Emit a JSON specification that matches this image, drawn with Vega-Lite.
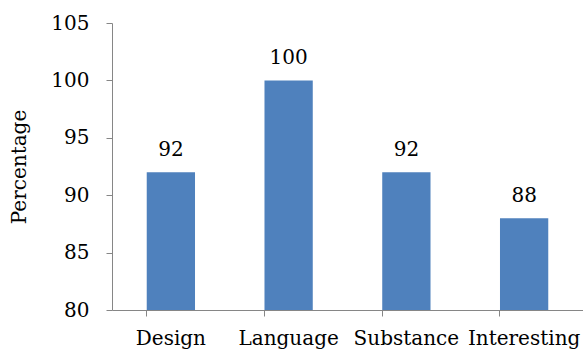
{
  "$schema": "https://vega.github.io/schema/vega-lite/v6.json",
  "autosize": "none",
  "padding": {"left": 112, "top": 23, "right": 0, "bottom": 45},
  "width": 471,
  "height": 287,
  "data": {"values": [
    {"category": "Design", "value": 92},
    {"category": "Language", "value": 100},
    {"category": "Substance", "value": 92},
    {"category": "Interesting", "value": 88}
  ]},
  "config": {"view": {"stroke": null}, "font": "DejaVu Serif"},
  "encoding": {
    "x": {"field": "category", "type": "nominal", "sort": null,
      "scale": {"paddingInner": 0.59, "paddingOuter": 0.295},
      "axis": {"title": null, "labelAngle": 0, "labelFont": "DejaVu Serif", "labelFontSize": 20, "labelColor": "#000", "labelPadding": 12,
        "domainColor": "#868686", "tickColor": "#868686", "tickSize": 6, "bandPosition": 0, "grid": false}},
    "y": {"field": "value", "type": "quantitative",
      "scale": {"domain": [80, 105], "zero": false, "nice": false},
      "axis": {"title": "Percentage", "values": [80, 85, 90, 95, 100, 105], "grid": false,
        "labelFont": "DejaVu Serif", "labelFontSize": 20, "labelColor": "#000", "labelPadding": 17,
        "titleFont": "DejaVu Serif", "titleFontSize": 20, "titleFontWeight": "normal", "titleColor": "#000", "titlePadding": 21,
        "domainColor": "#868686", "tickColor": "#868686", "tickSize": 6}}
  },
  "layer": [
    {"mark": {"type": "bar", "color": "#4F81BD"}, "encoding": {"y2": {"datum": 80}}},
    {"mark": {"type": "text", "baseline": "bottom", "dy": -12, "fontSize": 20, "font": "DejaVu Serif", "color": "#000"},
     "encoding": {"text": {"field": "value", "type": "quantitative"}}}
  ]
}
